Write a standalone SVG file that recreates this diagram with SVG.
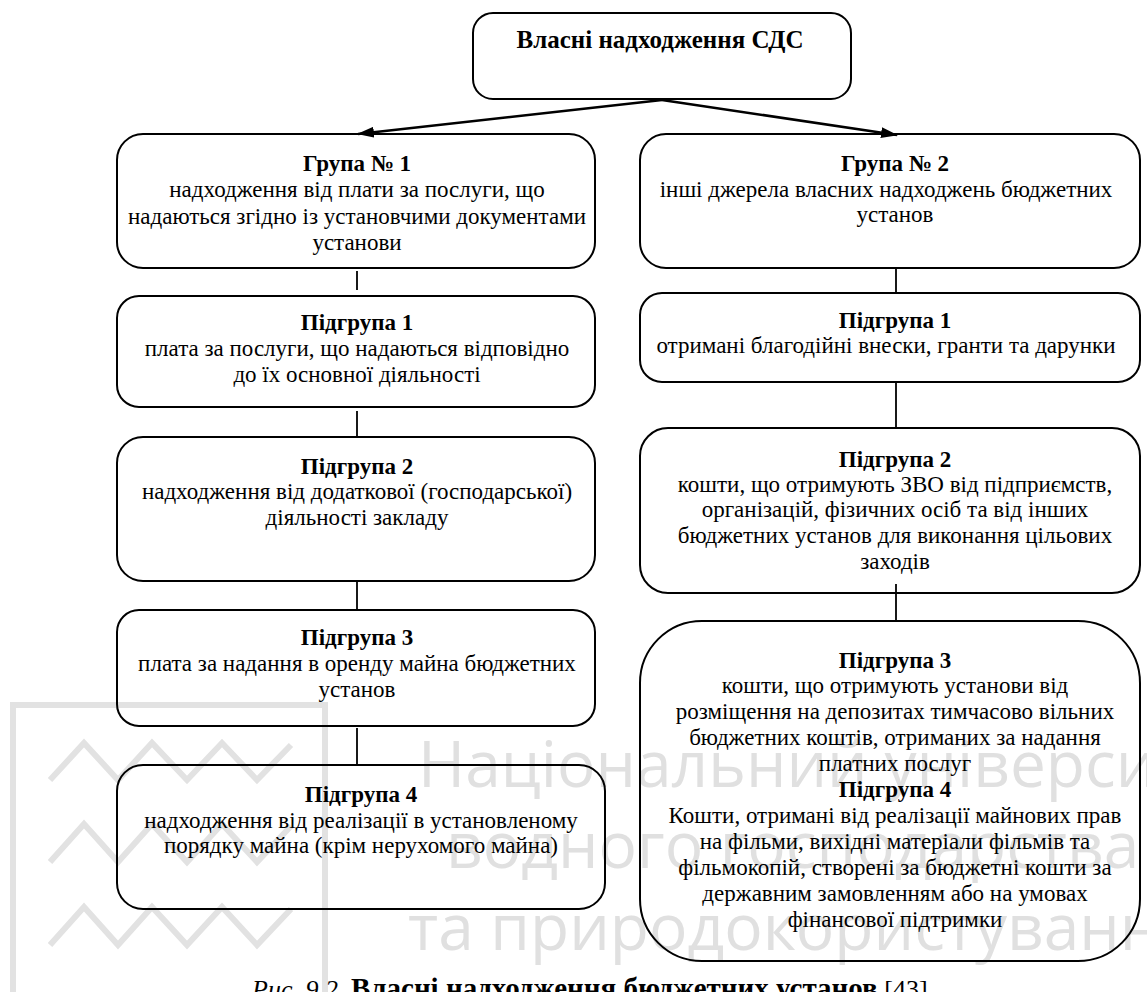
<svg xmlns="http://www.w3.org/2000/svg" width="1147" height="992" viewBox="0 0 1147 992">
  <style>
    .box { fill: none; stroke: #000; stroke-width: 2; }
    .link { stroke: #000; stroke-width: 1.8; fill: none; }
    .arrow { stroke: #000; stroke-width: 2.6; fill: none; }
    .t { font-family: "Liberation Serif", "Times New Roman", "DejaVu Serif", serif; font-size: 23px; fill: #000; text-anchor: middle; }
    .b { font-weight: bold; }
    .title { font-size: 25px; }
    .wm { fill: none; stroke: #e2e2e2; stroke-width: 6; }
    .wmt { font-family: "Open Sans", "Liberation Sans", sans-serif; font-size: 64px; fill: #e0e0e0; }
    .cap { font-family: "Liberation Serif", "Times New Roman", "DejaVu Serif", serif; font-size: 26px; fill: #000; }
  </style>
  <defs>
    <marker id="head" markerWidth="17" markerHeight="11" refX="16" refY="5.5" orient="auto" markerUnits="userSpaceOnUse">
      <path d="M0,0 L17,5.5 L0,11 Z" fill="#000"/>
    </marker>
  </defs>

  <rect width="1147" height="992" fill="#fff"/>

  <!-- faint emblem and lettering in the background -->
  <g id="background-mark">
    <path class="wm" d="M13,992 V705 H325 V992"/>
    <polyline class="wm" points="50,780 84,743 118,780 152,743 187,780 222,743 257,780 291,745"/>
    <polyline class="wm" points="50,862 84,824 118,862 152,824 187,862 222,824 257,862 291,826"/>
    <polyline class="wm" points="50,945 84,907 118,945 152,907 187,945 222,907 257,945 291,909"/>
    <text class="wmt" x="418" y="787">Національний університет</text>
    <text class="wmt" x="446" y="868">водного господарства</text>
    <text class="wmt" x="408" y="950">та природокористування</text>
  </g>

  <!-- connectors -->
  <g id="connectors">
    <line class="arrow" x1="662" y1="100" x2="358" y2="134" marker-end="url(#head)"/>
    <line class="arrow" x1="662" y1="100" x2="897" y2="135" marker-end="url(#head)"/>
    <line class="link" x1="357" y1="271" x2="357" y2="290"/>
    <line class="link" x1="357" y1="411" x2="357" y2="437"/>
    <line class="link" x1="357" y1="581" x2="357" y2="610"/>
    <line class="link" x1="357" y1="728" x2="357" y2="765"/>
    <line class="link" x1="896" y1="268" x2="896" y2="293"/>
    <line class="link" x1="896" y1="382" x2="896" y2="428"/>
    <line class="link" x1="896" y1="584" x2="896" y2="621"/>
  </g>

  <g id="root">
    <rect class="box" x="473" y="13" width="378" height="86" rx="20"/>
    <text class="t b title" x="660" y="48">Власні надходження СДС</text>
  </g>

  <g id="group1">
    <rect class="box" x="117" y="134" width="478" height="134" rx="26"/>
    <text class="t b" x="357" y="171">Група № 1</text>
    <text class="t" x="357" y="197">надходження від плати за послуги, що</text>
    <text class="t" x="357" y="224">надаються згідно із установчими документами</text>
    <text class="t" x="357" y="250">установи</text>
  </g>

  <g id="group1-sub1">
    <rect class="box" x="117" y="296" width="478" height="111" rx="22"/>
    <text class="t b" x="357" y="330">Підгрупа 1</text>
    <text class="t" x="357" y="356">плата за послуги, що надаються відповідно</text>
    <text class="t" x="357" y="382">до їх основної діяльності</text>
  </g>

  <g id="group1-sub2">
    <rect class="box" x="117" y="437" width="478" height="144" rx="26"/>
    <text class="t b" x="357" y="474">Підгрупа 2</text>
    <text class="t" x="357" y="499">надходження від додаткової (господарської)</text>
    <text class="t" x="357" y="525">діяльності закладу</text>
  </g>

  <g id="group1-sub3">
    <rect class="box" x="117" y="610" width="478" height="116" rx="22"/>
    <text class="t b" x="357" y="645">Підгрупа 3</text>
    <text class="t" x="357" y="671">плата за надання в оренду майна бюджетних</text>
    <text class="t" x="357" y="697">установ</text>
  </g>

  <g id="group1-sub4">
    <rect class="box" x="117" y="765" width="488" height="144" rx="26"/>
    <text class="t b" x="361" y="802">Підгрупа 4</text>
    <text class="t" x="361" y="828">надходження від реалізації в установленому</text>
    <text class="t" x="361" y="853">порядку майна (крім нерухомого майна)</text>
  </g>

  <g id="group2">
    <rect class="box" x="640" y="134" width="500" height="134" rx="26"/>
    <text class="t b" x="895" y="171">Група № 2</text>
    <text class="t" x="886" y="197">інші джерела власних надходжень бюджетних</text>
    <text class="t" x="895" y="222">установ</text>
  </g>

  <g id="group2-sub1">
    <rect class="box" x="640" y="293" width="500" height="89" rx="22"/>
    <text class="t b" x="895" y="328">Підгрупа 1</text>
    <text class="t" x="886" y="353">отримані благодійні внески, гранти та дарунки</text>
  </g>

  <g id="group2-sub2">
    <rect class="box" x="640" y="428" width="500" height="165" rx="28"/>
    <text class="t b" x="895" y="467">Підгрупа 2</text>
    <text class="t" x="895" y="492">кошти, що отримують ЗВО від підприємств,</text>
    <text class="t" x="895" y="517">організацій, фізичних осіб та від інших</text>
    <text class="t" x="895" y="543">бюджетних установ для виконання цільових</text>
    <text class="t" x="895" y="569">заходів</text>
  </g>

  <g id="group2-sub3-4">
    <rect class="box" x="640" y="621" width="500" height="340" rx="62"/>
    <text class="t b" x="895" y="668">Підгрупа 3</text>
    <text class="t" x="895" y="693">кошти, що отримують установи від</text>
    <text class="t" x="895" y="719">розміщення на депозитах тимчасово вільних</text>
    <text class="t" x="895" y="745">бюджетних коштів, отриманих за надання</text>
    <text class="t" x="895" y="771">платних послуг</text>
    <text class="t b" x="895" y="797">Підгрупа 4</text>
    <text class="t" x="895" y="823">Кошти, отримані від реалізації майнових прав</text>
    <text class="t" x="895" y="849">на фільми, вихідні матеріали фільмів та</text>
    <text class="t" x="895" y="875">фільмокопій, створені за бюджетні кошти за</text>
    <text class="t" x="895" y="901">державним замовленням або на умовах</text>
    <text class="t" x="895" y="927">фінансової підтримки</text>
  </g>

  <g id="caption">
    <text class="cap" x="252" y="998"><tspan font-style="italic">Рис. 9.2.</tspan> <tspan font-weight="bold" font-size="29">Власні надходження бюджетних установ</tspan> [43]</text>
  </g>
</svg>
